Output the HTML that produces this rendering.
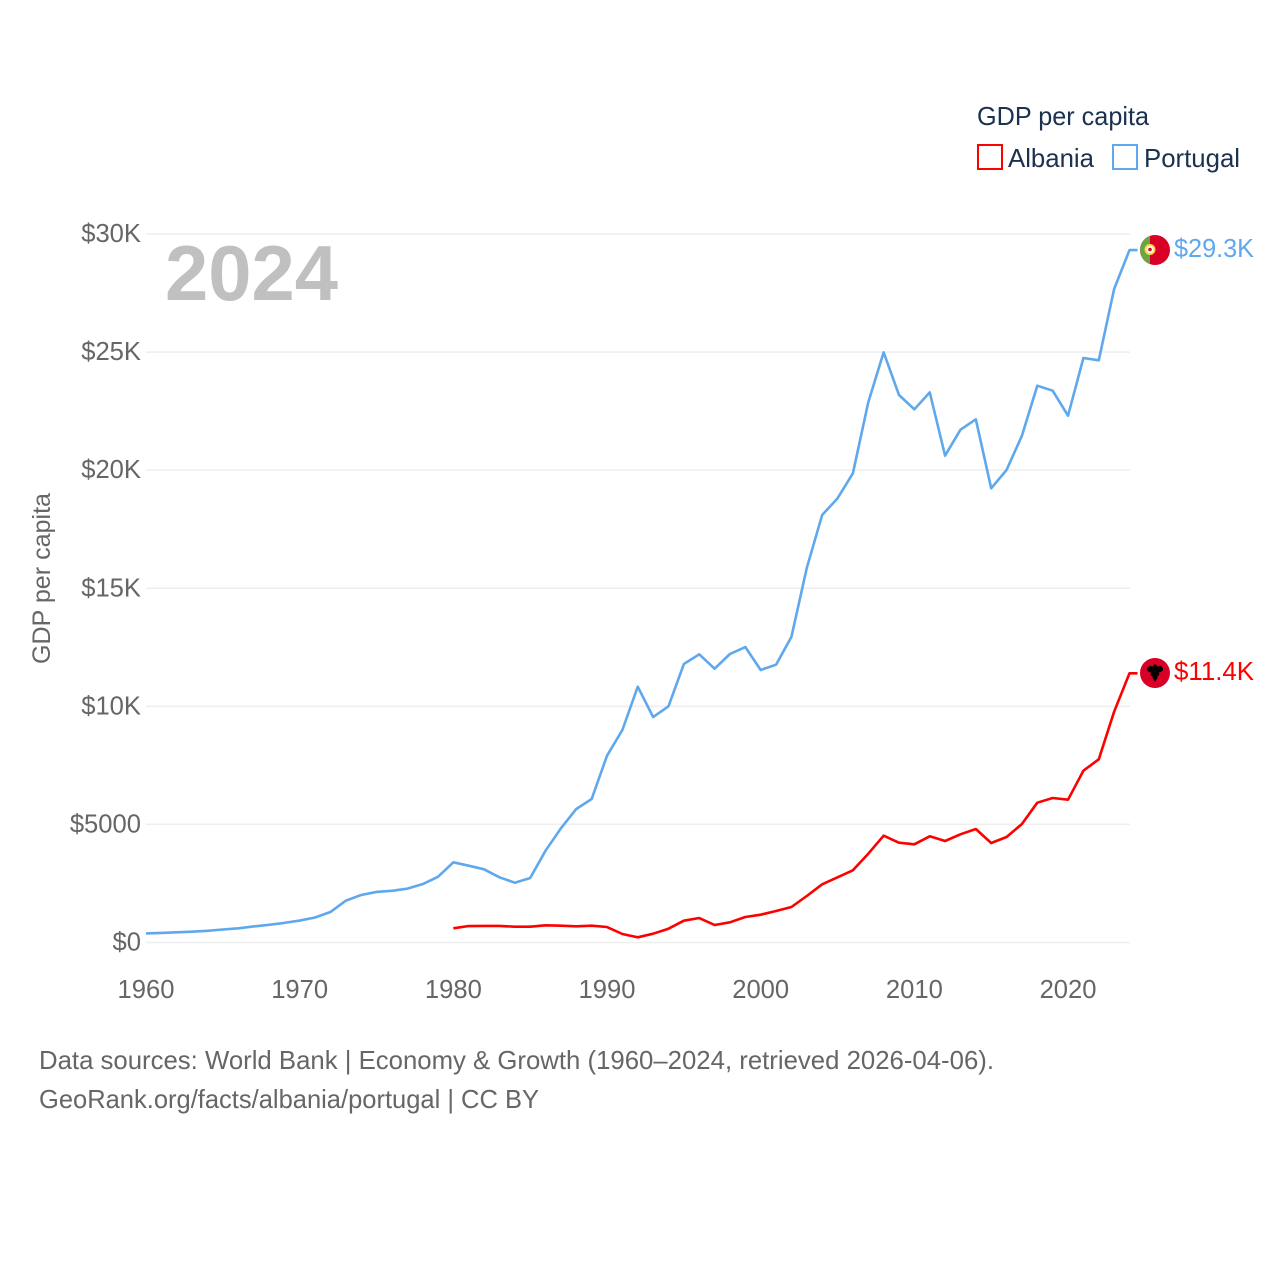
<!DOCTYPE html>
<html lang="en">
<head>
<meta charset="utf-8">
<title>GDP per capita: Albania vs Portugal</title>
<style>
html,body{margin:0;padding:0;background:#fff;width:1280px;height:1280px;overflow:hidden}
svg{display:block}
text{font-family:"Liberation Sans",sans-serif}
</style>
</head>
<body>
<svg id="chart" xmlns="http://www.w3.org/2000/svg" width="1280" height="1280" viewBox="0 0 1280 1280">
  <defs>
    <clipPath id="pt-clip"><circle cx="1155" cy="250" r="15"/></clipPath>
  </defs>
  <rect x="0" y="0" width="1280" height="1280" fill="#ffffff"/>
  <g id="grid"></g>
  <g id="yticks"></g>
  <g id="xticks"></g>
  <text x="165" y="300" font-size="78" font-weight="700" fill="#c0c0c0" textLength="173" lengthAdjust="spacingAndGlyphs">2024</text>
  <text transform="translate(50,664) rotate(-90)" font-size="25" fill="#666666" textLength="171" lengthAdjust="spacingAndGlyphs">GDP per capita</text>
  <g id="series"></g>

  <g>
    <text x="977" y="125" font-size="25.6" fill="#1a3150" textLength="172" lengthAdjust="spacingAndGlyphs">GDP per capita</text>
    <rect x="978" y="145" width="24" height="24" fill="none" stroke="#ff0000" stroke-width="2"/>
    <text x="1008" y="167" font-size="25.6" fill="#1a3150" textLength="86" lengthAdjust="spacingAndGlyphs">Albania</text>
    <rect x="1113" y="145" width="24" height="24" fill="none" stroke="#5fa8ee" stroke-width="2"/>
    <text x="1144" y="167" font-size="25.6" fill="#1a3150" textLength="96" lengthAdjust="spacingAndGlyphs">Portugal</text>
  </g>

  <g>
    <g clip-path="url(#pt-clip)">
      <rect x="1140" y="235" width="30" height="30" fill="#d80027"/>
      <rect x="1140" y="235" width="10" height="30" fill="#6da544"/>
    </g>
    <circle cx="1150" cy="249.5" r="4.5" fill="#ffffff" stroke="#ffda44" stroke-width="2"/>
    <circle cx="1150" cy="249.5" r="1.8" fill="#d80027"/>
  </g>
  <text x="1174" y="257" font-size="25.6" fill="#5fa8ee" textLength="80" lengthAdjust="spacingAndGlyphs">$29.3K</text>

  <g>
    <circle cx="1155" cy="673" r="15" fill="#d80027"/>
    <path d="M1155 664 l2.5 2.5 l1.5 0 l1 -1 l3 2.5 l0 2.5 l-3 2 l-1.5 0 l1 2.5 l-2 1 l0 2 l-2.5 3.5 l-2.5 -3.5 l0 -2 l-2 -1 l1 -2.5 l-1.5 0 l-3 -2 l0 -2.5 l3 -2.5 l1 1 l1.5 0 z" fill="#000000"/>
  </g>
  <text x="1174" y="680" font-size="25.6" fill="#ff0000" textLength="80" lengthAdjust="spacingAndGlyphs">$11.4K</text>

  <g>
    <text x="39" y="1069" font-size="25.6" fill="#666666" textLength="955" lengthAdjust="spacingAndGlyphs">Data sources: World Bank | Economy &amp; Growth (1960–2024, retrieved 2026-04-06).</text>
    <text x="39" y="1108" font-size="25.6" fill="#666666" textLength="500" lengthAdjust="spacingAndGlyphs">GeoRank.org/facts/albania/portugal | CC BY</text>
  </g>
</svg>
<script>
const firstYear = 1960;
const lastYear = 2024;
const albaniaStartYear = 1980;
const yTickValues = [0, 5000, 10000, 15000, 20000, 25000, 30000];
const yTickLabels = ["$0", "$5000", "$10K", "$15K", "$20K", "$25K", "$30K"];
const xTickYears = [1960, 1970, 1980, 1990, 2000, 2010, 2020];
const portugalValues = [
  385, 405, 430, 460, 495, 550, 600, 680, 750, 830,
  930, 1060, 1290, 1770, 2010, 2140, 2190, 2280, 2470, 2780,
  3396, 3252, 3099, 2760, 2532, 2731, 3888, 4835, 5653, 6076,
  7911, 8998, 10832, 9548, 10000, 11792, 12203, 11594, 12216, 12512,
  11538, 11763, 12940, 15860, 18100, 18808, 19866, 22873, 24990, 23183,
  22577, 23296, 20613, 21714, 22153, 19232, 20007, 21460, 23577, 23365,
  22306, 24749, 24652, 27670, 29320
];
const albaniaValues = [
  601, 698, 700, 700, 670, 670, 728, 710, 686, 710,
  656, 360, 220, 373, 584, 923, 1037, 741, 855, 1080,
  1177, 1334, 1503, 1969, 2464, 2760, 3057, 3760, 4522, 4226,
  4158, 4497, 4298, 4581, 4806, 4213, 4467, 5018, 5920, 6118,
  6047, 7275, 7757, 9773, 11399
];

const NS = "http://www.w3.org/2000/svg";
const plotLeft = 146, plotRight = 1129.5, gridRight = 1130, plotBottom = 942.5, plotTop = 234;
function xScale(year) {
  return plotLeft + (year - firstYear) / (lastYear - firstYear) * (plotRight - plotLeft);
}
function yScale(value) {
  return plotBottom - value / 30000 * (plotBottom - plotTop);
}
function make(tag, parent) {
  const el = document.createElementNS(NS, tag);
  parent.appendChild(el);
  return el;
}

const gridGroup = document.getElementById("grid");
const yGroup = document.getElementById("yticks");
const xGroup = document.getElementById("xticks");
const seriesGroup = document.getElementById("series");

yTickValues.forEach(function (v, i) {
  const line = make("line", gridGroup);
  
  
  line.setAttribute("x1", plotLeft);
  line.setAttribute("x2", gridRight);
  line.setAttribute("y1", yScale(v));
  line.setAttribute("y2", yScale(v));
  line.setAttribute("stroke", "#eeeeee");
  line.setAttribute("stroke-width", "1.5");

  const label = make("text", yGroup);
  
  
  label.setAttribute("x", 141);
  label.setAttribute("y", yScale(v) + 8);
  label.setAttribute("text-anchor", "end");
  label.setAttribute("font-size", "25.6");
  label.setAttribute("fill", "#666666");
  label.textContent = yTickLabels[i];
});

xTickYears.forEach(function (year) {
  const label = make("text", xGroup);
  
  
  label.setAttribute("x", xScale(year));
  label.setAttribute("y", 998);
  label.setAttribute("text-anchor", "middle");
  label.setAttribute("font-size", "25.6");
  label.setAttribute("fill", "#666666");
  label.textContent = String(year);
});

function pointsFor(values, startYear) {
  return values.map(function (v, i) {
    return xScale(startYear + i).toFixed(2) + "," + yScale(v).toFixed(2);
  });
}

const portugalPts = pointsFor(portugalValues, firstYear);
portugalPts.push((xScale(lastYear) + 8).toFixed(2) + "," + yScale(portugalValues[portugalValues.length - 1]).toFixed(2));
const portugalLine = make("polyline", seriesGroup);


portugalLine.setAttribute("points", portugalPts.join(" "));
portugalLine.setAttribute("fill", "none");
portugalLine.setAttribute("stroke", "#5fa8ee");
portugalLine.setAttribute("stroke-width", "2.6");
portugalLine.setAttribute("stroke-linejoin", "round");

const albaniaPts = pointsFor(albaniaValues, albaniaStartYear);
albaniaPts.push((xScale(lastYear) + 8).toFixed(2) + "," + yScale(albaniaValues[albaniaValues.length - 1]).toFixed(2));
const albaniaLine = make("polyline", seriesGroup);


albaniaLine.setAttribute("points", albaniaPts.join(" "));
albaniaLine.setAttribute("fill", "none");
albaniaLine.setAttribute("stroke", "#ff0000");
albaniaLine.setAttribute("stroke-width", "2.6");
albaniaLine.setAttribute("stroke-linejoin", "round");
</script>
</body>
</html>
